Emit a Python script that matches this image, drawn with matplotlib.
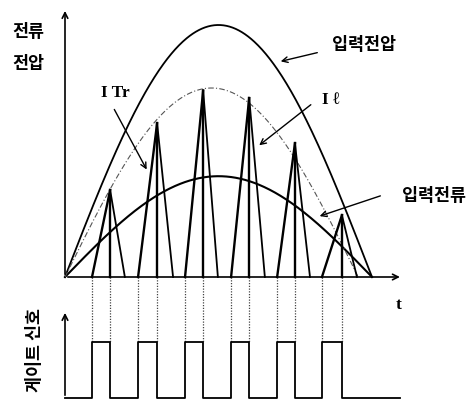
import numpy as np
import matplotlib.pyplot as plt

# time axis in ms (half mains cycle = 10 ms), amplitudes normalised to input voltage peak
half_period = 10.0
v_peak = 1.0          # input voltage
i_peak = 0.40         # input current (average)
env_peak = 0.75       # peak-current envelope (dash-dot)
env_end = 9.55

sw_on = [0.88, 2.38, 3.91, 5.41, 6.91, 8.37]       # switch turns on
sw_off = [1.47, 3.00, 4.50, 6.00, 7.49, 9.02]      # switch turns off (peak)
il_zero = [1.95, 3.52, 4.98, 6.51, 7.98, 9.51]     # inductor current back to zero
i_top = [0.345, 0.61, 0.74, 0.71, 0.53, 0.245]     # peak current per cycle

W, H = 476, 400
fig = plt.figure(figsize=(W / 100, H / 100), dpi=100)

# main plot: t=0 at x=65 px, 30.7 px per ms, baseline at y=277 px, 252 px per unit
ax = fig.add_axes([0, 0, 1, 1])
ax.set_xlim(-65 / 30.7, (W - 65) / 30.7)
ax.set_ylim(-(H - 277) / 252, 277 / 252)
ax.axis('off')

# gate signal: low at y=398 px, high at y=342 px
gx = fig.add_axes([0, 0, 1, 1], sharex=ax)
gx.set_ylim(-2 / 56, (H - 2) / 56)
gx.axis('off')
gx.patch.set_visible(False)

t = np.linspace(0, half_period, 400)
ax.plot(t, v_peak * np.sin(np.pi * t / half_period), color='black', lw=1.3)
ax.plot(t, i_peak * np.sin(np.pi * t / half_period), color='black', lw=1.5)
te = np.linspace(0, env_end, 400)
ax.plot(te, env_peak * np.sin(np.pi * te / env_end), color='#555555', lw=0.8,
        ls=(0, (5, 2, 1, 2)))

for on, off, z, top in zip(sw_on, sw_off, il_zero, i_top):
    ax.plot([on, off], [0, top], color='black', lw=1.7)
    ax.plot([off, off], [top, 0], color='black', lw=1.7)
    ax.plot([off, z], [top, 0], color='black', lw=1.3)

# axes with arrows
arrow = dict(arrowstyle='->', color='black', lw=1.2)
ax.annotate('', xy=(0, 1.067), xytext=(0, 0), arrowprops=arrow)
ax.annotate('', xy=(11.0, 0), xytext=(0, 0), arrowprops=arrow)
gx.annotate('', xy=(0, 1.57), xytext=(0, 0), arrowprops=arrow)

# gate pulses
gate_t = [0]
gate_v = [0]
for on, off in zip(sw_on, sw_off):
    gate_t += [on, on, off, off]
    gate_v += [0, 1, 1, 0]
gate_t.append(10.9)
gate_v.append(0)
gx.plot(gate_t, gate_v, color='black', lw=1.3)

# dotted links between current edges and gate edges
y_link = ax.transData.inverted().transform(gx.transData.transform((0, 1)))[1]
for x in sw_on + sw_off:
    ax.plot([x, x], [0, y_link], color='#444444', lw=0.9, ls=(0, (1, 1.2)))

# labels
kr = {'family': ['Noto Sans CJK KR', 'DejaVu Sans'], 'weight': 'bold', 'fontsize': 12.5}
def ftext(x, y, s, **kw):
    fig.text(x / W, 1 - y / H, s, ha='center', va='center', **kw)

ftext(28, 32, '전류', **kr)
ftext(28, 64, '전압', **kr)
ftext(364, 45, '입력전압', **kr)
ftext(434, 196, '입력전류', **kr)
ftext(35, 350, '게이트 신호', rotation=90, **kr)
serif = {'family': ['Liberation Serif', 'DejaVu Serif'], 'weight': 'bold', 'fontsize': 12.5}
ftext(115, 93, 'I Tr', **serif)
ftext(331, 100, 'I ℓ', **serif)
ftext(399, 305, 't', **serif)

lab_arrow = dict(arrowstyle='->', color='black', lw=1.0)
for (x0, y0), (x1, y1) in [((113, 107), (148, 172)), ((313, 103), (257, 147)),
                           ((320, 52), (278, 62)), ((383, 195), (317, 217))]:
    ax.annotate('', xy=(x1, H - y1), xytext=(x0, H - y0), xycoords='figure pixels',
                textcoords='figure pixels', arrowprops=lab_arrow)

fig.savefig('out.png', dpi=100)
